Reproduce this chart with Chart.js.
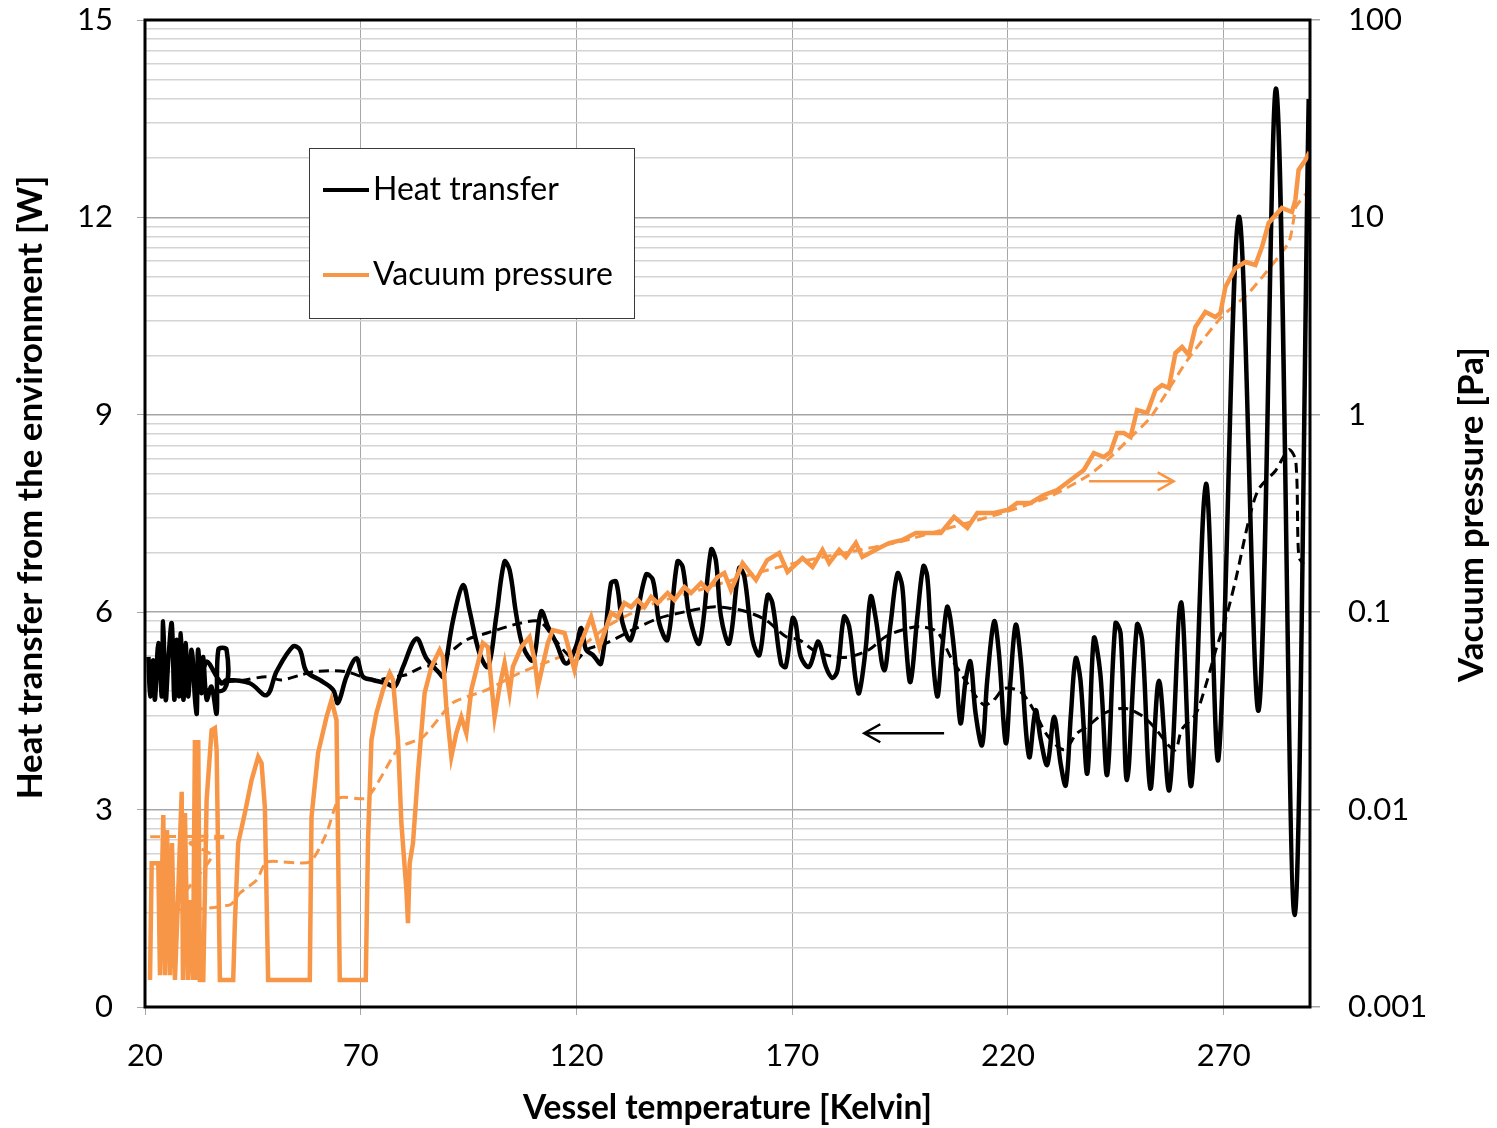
<!DOCTYPE html>
<html>
<head>
<meta charset="utf-8">
<title>Heat transfer and vacuum pressure</title>
<script src="https://cdn.jsdelivr.net/npm/chart.js@4.4.0/dist/chart.umd.min.js"></script>
<style>
  html, body { margin: 0; padding: 0; background: #ffffff; }
  canvas { display: block; }
</style>
</head>
<body>
<canvas id="heatChart" width="1497" height="1128"></canvas>
<script>
// Heat leak from the environment and vacuum pressure, both against vessel temperature.

// measured heat transfer [W]
const heatTemp = [
  20.8, 21.2, 21.9, 22.3, 23.1, 23.9, 24.2, 24.8, 25.4, 26.2,
  26.8, 27.3, 27.9, 28.3, 28.9, 29.4, 30.0, 30.8, 31.6, 32.0,
  32.3, 33.1, 33.5, 34.3, 35.4, 36.6, 37.0, 38.9, 38.5, 33.9,
  34.3, 37.7, 38.9, 44.3, 48.2, 50.5, 54.3, 55.9, 57.4, 60.5,
  63.6, 64.7, 66.7, 69.0, 70.5, 72.8, 75.9, 77.9, 79.8, 82.9,
  85.2, 88.3, 89.1, 91.4, 93.7, 95.2, 97.5, 99.5, 101.4, 103.3,
  104.5, 106.0, 107.6, 109.9, 111.8, 113.4, 115.3, 117.6, 119.9, 121.1,
  122.2, 123.8, 125.7, 128.0, 129.2, 130.7, 132.6, 136.1, 137.7, 139.2,
  141.1, 143.4, 144.6, 146.2, 148.5, 151.2, 152.3, 153.5, 155.4, 157.7,
  158.9, 160.8, 162.4, 164.3, 165.4, 167.4, 168.5, 170.1, 170.8, 172.0,
  173.9, 175.9, 176.6, 177.8, 179.3, 180.5, 182.0, 183.2, 184.7, 185.5,
  187.0, 188.2, 189.3, 191.3, 192.8, 194.4, 195.5, 196.3, 197.4, 199.0,
  200.4, 201.3, 202.1, 203.6, 204.8, 205.9, 206.7, 207.9, 209.0, 210.2,
  211.3, 212.5, 214.0, 215.2, 216.8, 217.9, 219.5, 220.6, 221.8, 222.9,
  224.9, 226.4, 227.6, 229.1, 230.7, 232.2, 233.4, 234.6, 235.7, 236.8,
  238.4, 239.9, 241.4, 243.0, 244.9, 246.1, 247.6, 249.9, 251.1, 253.0,
  255.0, 257.4, 260.1, 262.5, 265.9, 268.8, 273.5, 278.1, 282.2, 286.4,
  289.7
];
const heatW = [
  5.32, 4.72, 5.27, 4.67, 5.53, 4.72, 5.86, 4.67, 5.27, 5.83,
  4.67, 5.58, 4.72, 5.68, 4.67, 5.53, 4.72, 5.43, 4.67, 4.46,
  5.43, 4.77, 5.32, 4.67, 4.87, 4.46, 5.43, 5.43, 4.84, 4.84,
  5.25, 4.92, 4.97, 4.92, 4.74, 5.10, 5.48, 5.43, 5.10, 4.97,
  4.82, 4.62, 5.02, 5.30, 5.02, 4.97, 4.92, 4.87, 5.17, 5.60,
  5.30, 5.07, 5.02, 5.88, 6.41, 6.03, 5.38, 5.17, 5.93, 6.77,
  6.64, 5.98, 5.48, 5.27, 6.01, 5.78, 5.53, 5.22, 5.48, 5.76,
  5.43, 5.35, 5.22, 6.44, 6.46, 5.83, 5.58, 6.57, 6.49, 5.83,
  5.58, 6.77, 6.69, 5.93, 5.53, 6.95, 6.79, 5.93, 5.53, 6.67,
  6.54, 5.58, 5.35, 6.26, 6.14, 5.22, 5.17, 5.91, 5.83, 5.32,
  5.17, 5.55, 5.48, 5.17, 5.00, 5.12, 5.93, 5.78, 4.97, 4.77,
  5.43, 6.24, 5.93, 5.12, 5.83, 6.59, 6.39, 5.58, 4.94, 5.93,
  6.70, 6.54, 5.73, 4.72, 5.48, 6.08, 5.88, 5.17, 4.31, 4.97,
  5.25, 4.46, 3.98, 4.97, 5.86, 5.38, 4.01, 4.97, 5.81, 5.32,
  3.80, 4.51, 4.06, 3.68, 4.41, 3.70, 3.37, 4.46, 5.30, 4.97,
  3.55, 5.60, 5.07, 3.53, 5.83, 5.68, 3.45, 5.81, 5.58, 3.32,
  4.96, 3.30, 6.15, 3.37, 7.95, 3.78, 12.01, 4.51, 13.94, 1.40,
  13.8
];

// moving-average trend of the heat transfer
const heatTrendTemp = [
  38.5, 43.2, 48.2, 51.6, 56.3, 59.4, 66.3, 72.9, 77.9, 80.6,
  83.7, 87.5, 91.4, 94.5, 99.1, 106.8, 111.4, 114.5, 117.6, 119.9,
  122.3, 126.9, 133.0, 139.2, 145.4, 151.6, 155.4, 159.3, 163.9, 168.5,
  171.6, 175.5, 180.1, 183.2, 187.8, 191.7, 195.5, 199.4, 203.6, 206.7,
  210.6, 214.4, 216.8, 219.1, 222.9, 226.0, 229.1, 233.0, 236.0, 238.4,
  242.2, 246.9, 250.7, 253.8, 257.3, 258.9, 260.3, 263.5, 265.8, 268.2,
  270.5, 272.8, 275.8, 278.1, 282.0, 285.1, 286.7, 287.4, 288.5
];
const heatTrendW = [
  4.94, 4.97, 5.02, 4.97, 5.05, 5.10, 5.10, 4.97, 5.02, 5.05,
  5.15, 5.22, 5.43, 5.58, 5.68, 5.83, 5.86, 5.63, 5.38, 5.27,
  5.43, 5.53, 5.73, 5.91, 6.01, 6.08, 6.06, 6.01, 5.88, 5.63,
  5.58, 5.40, 5.32, 5.32, 5.43, 5.63, 5.73, 5.78, 5.70, 5.32,
  4.92, 4.59, 4.67, 4.84, 4.79, 4.51, 4.13, 3.91, 4.16, 4.26,
  4.46, 4.54, 4.44, 4.26, 3.97, 3.91, 4.22, 4.45, 4.88, 5.43,
  5.91, 6.50, 7.39, 7.87, 8.15, 8.47, 8.30, 6.84, 6.73
];

// measured vacuum pressure [Pa]
const pressTemp = [
  21.16, 21.55, 23.08, 23.47, 24.24, 24.63, 25.09, 25.79, 26.25, 26.94,
  27.64, 28.50, 28.80, 29.26, 29.95, 30.42, 31.11, 31.57, 32.04, 32.34,
  32.73, 33.50, 34.28, 35.44, 36.20, 36.60, 37.36, 40.44, 40.83, 41.60,
  43.15, 44.70, 46.23, 47.01, 47.78, 48.54, 58.19, 58.59, 60.12, 62.06,
  63.22, 64.38, 65.14, 71.16, 71.69, 72.48, 73.63, 75.16, 76.71, 77.48,
  78.63, 79.42, 80.58, 80.95, 81.34, 82.11, 83.26, 84.81, 86.37, 88.29,
  89.05, 89.84, 91.00, 92.15, 93.31, 94.47, 95.63, 98.31, 99.47, 101.02,
  102.18, 103.33, 104.49, 105.25, 107.20, 109.12, 110.28, 111.04, 113.36, 114.51,
  117.22, 119.54, 120.69, 123.40, 125.32, 128.03, 129.56, 131.11, 132.66, 134.19,
  135.74, 137.29, 138.82, 141.13, 142.69, 145.00, 146.55, 148.87, 150.39, 152.71,
  154.26, 155.81, 158.50, 161.60, 164.21, 166.99, 168.91, 172.38, 174.70, 177.01,
  178.56, 180.88, 182.43, 184.75, 186.27, 190.14, 192.45, 195.53, 198.63, 201.71,
  204.42, 207.50, 210.58, 212.89, 216.76, 219.84, 222.15, 225.25, 228.33, 231.41,
  234.51, 237.59, 239.91, 242.22, 243.77, 245.30, 246.85, 248.40, 249.93, 252.25,
  254.19, 255.72, 257.27, 258.82, 260.35, 261.90, 263.45, 265.76, 268.08, 269.24,
  270.39, 272.71, 275.02, 277.34, 278.87, 280.42, 283.50, 285.81, 286.60, 287.36,
  288.91, 289.91
];
const pressPa = [
  0.00137, 0.00535, 0.00535, 0.00145, 0.00939, 0.00145, 0.00788, 0.00145, 0.00677, 0.00137,
  0.00348, 0.0123, 0.00137, 0.00961, 0.00137, 0.00348, 0.00137, 0.0225, 0.00137, 0.0225,
  0.00137, 0.00137, 0.0112, 0.0253, 0.0259, 0.0200, 0.00137, 0.00137, 0.00266, 0.00677,
  0.00961, 0.0141, 0.0185, 0.0172, 0.0103, 0.00137, 0.00137, 0.00917, 0.0194, 0.0294,
  0.0359, 0.0284, 0.00137, 0.00137, 0.00701, 0.0225, 0.0308, 0.0404, 0.0492, 0.0454,
  0.0225, 0.00855, 0.00391, 0.00266, 0.00535, 0.00677, 0.0153, 0.0390, 0.0528, 0.0643,
  0.0593, 0.0331, 0.0185, 0.0244, 0.0294, 0.0244, 0.0404, 0.0698, 0.0666, 0.0294,
  0.0418, 0.0553, 0.0390, 0.0528, 0.0666, 0.0749, 0.0573, 0.0418, 0.0698, 0.0812,
  0.0785, 0.0510, 0.0666, 0.0946, 0.0666, 0.0991, 0.0946, 0.1113, 0.1062, 0.1153,
  0.1062, 0.1194, 0.1113, 0.1251, 0.1153, 0.1342, 0.1251, 0.1406, 0.1296, 0.1508,
  0.1580, 0.1296, 0.1775, 0.1455, 0.1838, 0.1995, 0.1598, 0.1882, 0.1694, 0.2066,
  0.1775, 0.2066, 0.1904, 0.2241, 0.1904, 0.2115, 0.2241, 0.2322, 0.2519, 0.2519,
  0.2519, 0.3035, 0.2670, 0.3181, 0.3181, 0.3294, 0.3574, 0.3574, 0.3924, 0.4159,
  0.4674, 0.5253, 0.6405, 0.6112, 0.6480, 0.8087, 0.8087, 0.7720, 1.057, 1.021,
  1.335, 1.416, 1.367, 2.056, 2.206, 2.009, 2.785, 3.317, 3.130, 3.279,
  4.440, 5.541, 5.943, 5.740, 7.08, 9.37, 11.16, 10.65, 12.25, 17.4,
  19.5, 21.4
];

// moving-average trend of the pressure
const pressTrendTemp = [
  21.2, 39.0, 30.4, 35.5, 26.9, 39.7, 42.0, 45.9, 48.2, 58.2,
  62.1, 65.1, 71.4, 77.4, 79.0, 84.4, 91.3, 99.2, 106.8, 114.4,
  120.0, 127.6, 136.9, 148.5, 160.0, 171.6, 183.2, 194.8, 206.3, 217.9,
  229.5, 238.8, 243.8, 248.5, 253.1, 261.6, 269.5, 275.8, 285.0, 286.2,
  286.7, 289.2
];
const pressTrendPa = [
  0.00729, 0.00729, 0.00677, 0.00582, 0.00317, 0.00329, 0.00378, 0.00440, 0.00543, 0.00543,
  0.00761, 0.01145, 0.01145, 0.0185, 0.02075, 0.0233, 0.0347, 0.0404, 0.0492, 0.0573,
  0.0643, 0.0861, 0.1088, 0.1296, 0.1543, 0.1796, 0.2018, 0.2268, 0.2670, 0.3144,
  0.3834, 0.4955, 0.6112, 0.7720, 0.9745, 1.895, 3.130, 4.14, 7.42, 9.70,
  11.29, 13.29
];

// axis ticks
const tempTicks = [20, 70, 120, 170, 220, 270];
const heatTicks = [0, 3, 6, 9, 12, 15];
const pressDecades = [0.001, 0.01, 0.1, 1, 10, 100];
const pressLabels = ['0.001', '0.01', '0.1', '1', '10', '100'];

const BLACK = '#000000';
const ORANGE = '#f79646';
const FONT = 'Lato, "Open Sans", sans-serif';

const toPoints = (xs, ys) => xs.map((x, i) => ({ x: x, y: ys[i] }));

// log axis: a gridline at every 1..9 step of each decade
const pressGrid = [];
pressDecades.forEach((d, i) => {
  if (i === pressDecades.length - 1) { pressGrid.push(d); return; }
  for (let m = 1; m <= 9; m++) pressGrid.push(d * m);
});
const isDecade = v => pressDecades.some(d => Math.abs(v / d - 1) < 1e-6);

// side arrows pointing each curve to its axis
const arrows = [
  { from: 205.2, to: 186.7, y: 4.16, axis: 'yHeat', color: BLACK },
  { from: 238.8, to: 258.4, y: 0.46, axis: 'yPress', color: ORANGE }
];

// keep the label overhang of the value axes out of the layout
const noVerticalPad = s => { s.paddingTop = 0; s.paddingBottom = 0; };

const plotFrame = {
  id: 'plotFrame',
  afterDatasetsDraw(chart) {
    const { ctx, chartArea: a } = chart;
    ctx.save();
    ctx.strokeStyle = '#000';
    ctx.lineWidth = 3;
    ctx.strokeRect(a.left, a.top, a.right - a.left, a.bottom - a.top);
    ctx.restore();
  }
};

const axisArrows = {
  id: 'axisArrows',
  afterDatasetsDraw(chart) {
    const { ctx, scales } = chart;
    arrows.forEach(ar => {
      const x0 = scales.x.getPixelForValue(ar.from);
      const x1 = scales.x.getPixelForValue(ar.to);
      const y = scales[ar.axis].getPixelForValue(ar.y);
      const dir = Math.sign(x1 - x0);
      ctx.save();
      ctx.strokeStyle = ar.color;
      ctx.lineWidth = 2.5;
      ctx.beginPath();
      ctx.moveTo(x0, y);
      ctx.lineTo(x1, y);
      ctx.moveTo(x1 - dir * 16, y - 9);
      ctx.lineTo(x1, y);
      ctx.lineTo(x1 - dir * 16, y + 9);
      ctx.stroke();
      ctx.restore();
    });
  }
};

const sideTitles = {
  id: 'sideTitles',
  afterDraw(chart) {
    const { ctx, chartArea: a, width } = chart;
    const mid = (a.top + a.bottom) / 2;
    const draw = (text, x, y) => {
      ctx.save();
      ctx.fillStyle = '#000';
      ctx.font = 'bold 35px ' + FONT;
      ctx.textAlign = 'center';
      ctx.textBaseline = 'middle';
      ctx.translate(x, y);
      ctx.rotate(-Math.PI / 2);
      ctx.fillText(text, 0, 0);
      ctx.restore();
    };
    draw('Heat transfer from the environment [W]', 31, mid - 26);
    draw('Vacuum pressure [Pa]', width - 25, mid + 1);
  }
};

const boxLegend = {
  id: 'boxLegend',
  afterDraw(chart) {
    const { ctx, chartArea: a } = chart;
    const x0 = a.left + 164, y0 = a.top + 128, w = 325, h = 170;
    const items = chart.data.datasets.filter(d => d.inLegend);
    ctx.save();
    ctx.fillStyle = '#fff';
    ctx.fillRect(x0, y0, w, h);
    ctx.strokeStyle = '#3a3a3a';
    ctx.lineWidth = 1;
    ctx.strokeRect(x0 + 0.5, y0 + 0.5, w, h);
    ctx.font = '32px ' + FONT;
    ctx.textBaseline = 'middle';
    ctx.textAlign = 'left';
    items.forEach((d, i) => {
      const cy = y0 + 42 + i * 85;
      ctx.strokeStyle = d.borderColor;
      ctx.lineWidth = 4;
      ctx.beginPath();
      ctx.moveTo(x0 + 14, cy);
      ctx.lineTo(x0 + 60, cy);
      ctx.stroke();
      ctx.fillStyle = '#000';
      ctx.fillText(d.label, x0 + 64, cy);
    });
    ctx.restore();
  }
};

const tickFont = { family: FONT, size: 31 };

new Chart(document.getElementById('heatChart'), {
  type: 'line',
  data: {
    datasets: [
      {
        label: 'Heat transfer', inLegend: true, order: 1,
        data: toPoints(heatTemp, heatW), yAxisID: 'yHeat',
        borderColor: BLACK, borderWidth: 4.5, tension: 0.35
      },
      {
        label: 'Vacuum pressure', inLegend: true, order: 0,
        data: toPoints(pressTemp, pressPa), yAxisID: 'yPress',
        borderColor: ORANGE, borderWidth: 4.5, tension: 0
      },
      {
        label: 'Heat transfer trend', order: 2,
        data: toPoints(heatTrendTemp, heatTrendW), yAxisID: 'yHeat',
        borderColor: BLACK, borderWidth: 3, borderDash: [10, 6], tension: 0.3
      },
      {
        label: 'Vacuum pressure trend', order: 3,
        data: toPoints(pressTrendTemp, pressTrendPa), yAxisID: 'yPress',
        borderColor: ORANGE, borderWidth: 3, borderDash: [10, 6], tension: 0.2
      }
    ]
  },
  options: {
    responsive: false,
    animation: false,
    events: [],
    elements: { point: { radius: 0 } },
    layout: { padding: { top: 20, left: 0, right: 0, bottom: 0 } },
    plugins: { legend: { display: false }, tooltip: { enabled: false } },
    scales: {
      x: {
        type: 'linear', min: 20, max: 290,
        afterBuildTicks: axis => { axis.ticks = tempTicks.map(v => ({ value: v })); },
        afterFit: s => { s.height = 121; s.paddingLeft = 0; s.paddingRight = 0; },
        grid: { color: '#a6a6a6', lineWidth: 1, tickLength: 8, tickColor: '#a6a6a6' },
        border: { display: false },
        ticks: { color: '#000', font: tickFont, padding: 22, autoSkip: false, maxRotation: 0 },
        title: {
          display: true, text: 'Vessel temperature [Kelvin]', color: '#000',
          font: { family: FONT, size: 33.5, weight: 'bold' }, padding: { top: 0, bottom: 0 }
        }
      },
      yHeat: {
        type: 'linear', position: 'left', min: 0, max: 15,
        afterBuildTicks: axis => { axis.ticks = heatTicks.map(v => ({ value: v })); },
        afterFit: s => { s.width = 145; noVerticalPad(s); },
        grid: { drawOnChartArea: false, tickLength: 8, tickColor: '#a6a6a6' },
        border: { display: false },
        ticks: { color: '#000', font: tickFont, padding: 24, autoSkip: false }
      },
      yPress: {
        type: 'logarithmic', position: 'right', min: 0.001, max: 100,
        afterBuildTicks: axis => { axis.ticks = pressGrid.map(v => ({ value: v })); },
        afterFit: s => { s.width = 187; noVerticalPad(s); },
        grid: {
          color: c => isDecade(c.tick.value) ? '#a6a6a6' : '#d4d4d4',
          lineWidth: 1.5,
          tickLength: 10,
          tickColor: c => isDecade(c.tick.value) ? '#a6a6a6' : 'rgba(0,0,0,0)'
        },
        border: { display: false },
        ticks: {
          color: '#000', font: tickFont, padding: 28, autoSkip: false,
          callback: v => {
            const i = pressDecades.findIndex(d => Math.abs(v / d - 1) < 1e-6);
            return i >= 0 ? pressLabels[i] : '';
          }
        }
      }
    }
  },
  plugins: [plotFrame, axisArrows, sideTitles, boxLegend]
});
</script>
</body>
</html>
